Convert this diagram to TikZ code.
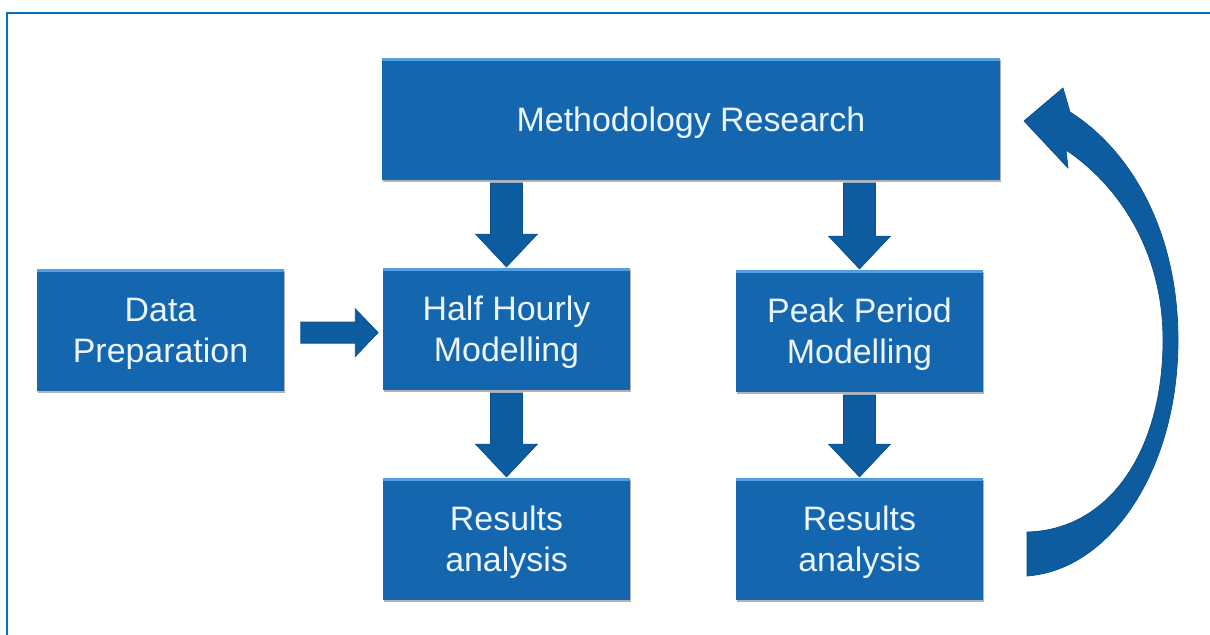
\documentclass[tikz,border=0pt]{standalone}
\usepackage{fontspec}
\setmainfont{Liberation Sans}
\usetikzlibrary{calc,shadows}
\definecolor{boxblue}{RGB}{20,102,175}
\definecolor{boxtop}{RGB}{80,160,225}
\definecolor{arrowblue}{RGB}{13,92,160}
\definecolor{arrowedge}{RGB}{10,78,140}
\definecolor{frameblue}{RGB}{0,112,192}
\definecolor{labeltext}{RGB}{236,245,252}

% vertical block arrow from the bottom of #1 to the top of #2
\newcommand\downblock[2]{%
  \path[blockarrow] let \p1=(#1.south), \p2=(#2.north) in
    (\x2-9.07pt,\y1-1.7pt) -- (\x2+9.07pt,\y1-1.7pt) -- (\x2+9.07pt,\y2+19.3pt)
    -- (\x2+17.6pt,\y2+19.3pt) -- (\x2,\y2+0.6pt) -- (\x2-17.6pt,\y2+19.3pt)
    -- (\x2-9.07pt,\y2+19.3pt) -- cycle;}
% horizontal block arrow from the right side of #1 to the left side of #2
\newcommand\rightblock[2]{%
  \path[blockarrow] let \p1=(#1.east), \p2=(#2.west) in
    (\x1+9.6pt,\y1-7.5pt) -- (\x1+9.6pt,\y1+4.5pt) -- (\x2-15.8pt,\y1+4.5pt)
    -- (\x2-15.8pt,\y1+12.1pt) -- (\x2-2.8pt,\y1-1.5pt) -- (\x2-15.8pt,\y1-15.1pt)
    -- (\x2-15.8pt,\y1-7.5pt) -- cycle;}

\begin{document}
\begin{tikzpicture}[x=0.02cm,y=-0.02cm,
  stage/.style={fill=boxblue, text=labeltext, inner sep=0pt, outer sep=0pt,
    minimum height=2.44cm, align=center, text depth=-2pt,
    font=\fontsize{19.3}{23.2}\selectfont,
    drop shadow={shadow xshift=0.8pt, shadow yshift=-1.4pt, opacity=0.3, fill=black},
    path picture={\fill[boxtop] (path picture bounding box.north west)
      rectangle ([yshift=-1.8pt]path picture bounding box.north east);}},
  widestage/.style={stage, minimum width=12.36cm},
  narrowstage/.style={stage, minimum width=4.94cm},
  blockarrow/.style={fill=arrowblue, draw=arrowedge, line width=0.4pt, line join=miter},
]
\useasboundingbox (0,0) rectangle (1210,635);
\fill[white] (0,0) rectangle (1210,635);

% frame
\draw[frameblue, line width=1.7pt] (7,13) rectangle (1240,670);

% stages
\node[widestage]  (method) at (691,119)   {Methodology Research};
\node[narrowstage] (data)  at (160.5,330) {Data\\Preparation};
\node[narrowstage] (half)  at (506.5,329) {Half Hourly\\Modelling};
\node[narrowstage] (peak)  at (859.5,331) {Peak Period\\Modelling};
\node[narrowstage] (res1)  at (506.5,539) {Results\\analysis};
\node[narrowstage] (res2)  at (859.5,539) {Results\\analysis};

% block arrows
\downblock{method}{half}
\downblock{method}{peak}
\downblock{half}{res1}
\downblock{peak}{res2}
\rightblock{data}{half}

% feedback loop from the peak results back to the methodology
\path[blockarrow] (1027,576) .. controls (1110,570) and (1178,470) .. (1178,340)
  .. controls (1178,230) and (1130,150) .. (1070,112) -- (1063,88) -- (1024,121)
  -- (1068,168) -- (1066,150) .. controls (1118,185) and (1163,250) .. (1163,340)
  .. controls (1163,450) and (1110,530) .. (1027,532) -- cycle;
\end{tikzpicture}
\end{document}
